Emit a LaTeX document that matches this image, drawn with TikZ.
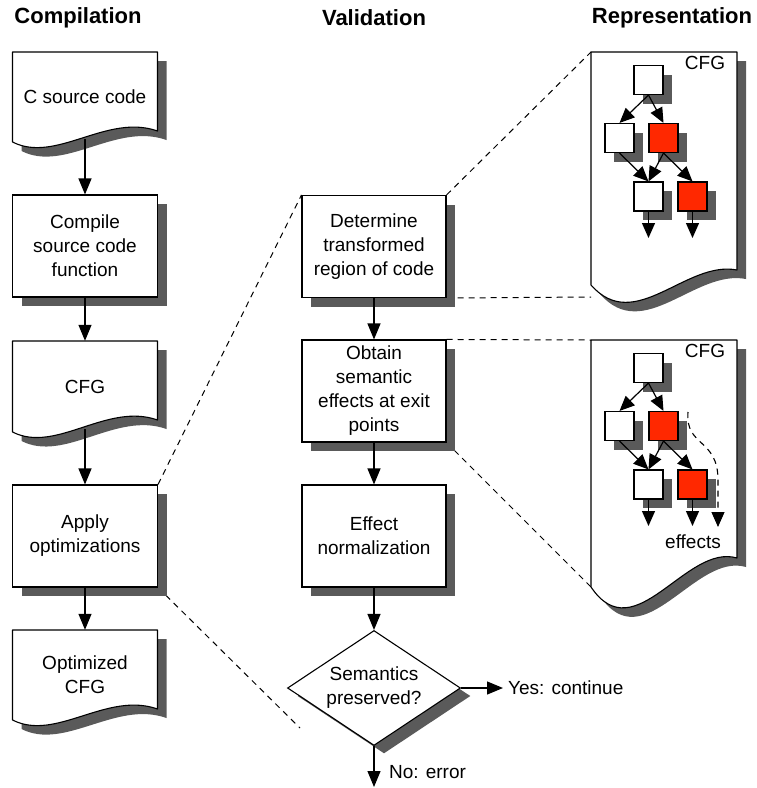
\documentclass[tikz,border=0pt]{standalone}
\usepackage{fontspec}
\setmainfont{Liberation Sans}
\usetikzlibrary{shapes.geometric,shadows,arrows.meta,backgrounds}
\definecolor{shadowgray}{RGB}{90,90,90}
\definecolor{cfgred}{RGB}{255,40,0}
% document shape: L T R B(left bottom) Br(right bottom) k1 k2
\newcommand\docshape[7]{%
  \begin{scope}[shift={(9,9)}]
    \fill[shadowgray] (#1,#2) -- (#3,#2) -- (#3,#5) .. controls ({#1+0.65*(#3-#1)},{#5-#7}) and ({#1+0.3*(#3-#1)},{#4+#6}) .. (#1,#4) -- cycle;
  \end{scope}
  \draw[line width=1.1pt,fill=white,line join=round] (#1,#2) -- (#3,#2) -- (#3,#5) .. controls ({#1+0.65*(#3-#1)},{#5-#7}) and ({#1+0.3*(#3-#1)},{#4+#6}) .. (#1,#4) -- cycle;
}
% mini CFG: y offset, name prefix
\newcommand\minicfg[2]{%
  \node[cfgw] (#2a) at (648.5,{80+#1}) {};
  \node[cfgw] (#2b) at (619.5,{138+#1}) {};
  \node[cfgr] (#2c) at (663.5,{138+#1}) {};
  \node[cfgw] (#2d) at (648.5,{196.5+#1}) {};
  \node[cfgr] (#2e) at (692.5,{196.5+#1}) {};
  \coordinate (#2dx) at (648.5,{238+#1});
  \coordinate (#2ex) at (692.5,{238+#1});
  \node[lbl] (#2lab) at (705,{63+#1}) {CFG};
  \draw[mini] (#2a.south) -- (#2b.north);
  \draw[mini] (#2a.south) -- (#2c.north);
  \draw[mini] (#2b.south) -- (#2d.north);
  \draw[mini] (#2c.south) -- (#2d.north);
  \draw[mini] (#2c.south) -- (#2e.north);
  \draw[mini] (#2d.south) -- (#2dx);
  \draw[mini] (#2e.south) -- (#2ex);
}
\begin{document}
\begin{tikzpicture}[x=1pt,y=-1pt,
  every node/.style={font=\fontsize{19}{24}\selectfont},
  shadowed/.style={drop shadow={shadow xshift=9pt,shadow yshift=-9pt,fill=shadowgray,opacity=1}},
  box/.style={draw,fill=white,line width=1.1pt,minimum width=145pt,minimum height=102pt,align=center,inner sep=0pt,shadowed},
  doctext/.style={minimum width=145pt,align=center,inner sep=0pt},
  title/.style={font=\fontsize{22}{24}\selectfont\bfseries},
  lbl/.style={inner sep=0pt},
  cfgw/.style={draw,fill=white,line width=1.1pt,minimum size=29pt,inner sep=0pt,shadowed},
  cfgr/.style={cfgw,fill=cfgred},
  main/.style={line width=1.2pt,-{Triangle[length=16pt,width=13pt]}},
  mini/.style={line width=1.2pt,-{Triangle[length=15pt,width=13pt]}},
  zoomline/.style={line width=1pt,dash pattern=on 6pt off 5pt}]
\useasboundingbox (0,0) rectangle (756,788);

% titles
\node[title] (t1) at (78,18) {Compilation};
\node[title] (t2) at (374,18) {Validation};
\node[title] (t3) at (672,18) {Representation};

% left column documents
\docshape{12.5}{52}{157.5}{142}{131}{22}{18}
\node[doctext,minimum height=90pt] (csrc) at (85,97) {C source code};
\coordinate (csrcb) at (85,139);
\docshape{12.5}{341}{157.5}{432}{420}{22}{18}
\node[doctext,minimum height=91pt] (cfg) at (85,386.5) {CFG};
\coordinate (cfgb) at (85,429);
\docshape{12.5}{630}{157.5}{720}{709}{22}{18}
\node[doctext,minimum height=90pt] (opt) at (85,675) {Optimized\\CFG};

% left column boxes
\node[box] (comp) at (85,246) {Compile\\source code\\function};
\node[box] (apply) at (85,536) {Apply\\optimizations};

% middle column
\node[box,minimum width=144pt] (det) at (374,246.5) {Determine\\transformed\\region of code};
\node[box,minimum width=144pt] (obt) at (374,391) {Obtain\\semantic\\effects at exit\\points};
\node[box,minimum width=144pt] (eff) at (374,536) {Effect\\normalization};
\node[diamond,draw,fill=white,line width=1.1pt,minimum width=173pt,minimum height=115pt,inner sep=0pt,
      drop shadow={shadow xshift=10pt,shadow yshift=-8pt,fill=shadowgray,opacity=1}] (dec) at (374,688) {};
\node[align=center,inner sep=0pt] (dect) at (374,688) {Semantics\\preserved?};
\coordinate (yesend) at (503,688);
\coordinate (noend) at (374,787);
\node[lbl,anchor=west] (yes) at (508,688) {Yes: continue};
\node[lbl,anchor=west] (no) at (389,772) {No: error};

% right column documents
\docshape{591}{52}{737}{285}{270}{50}{10}
\node[minimum width=146pt,minimum height=233pt,inner sep=0pt] (rep1) at (664,168.5) {};
\docshape{591}{340}{737}{587}{558}{65}{15}
\node[minimum width=146pt,minimum height=247pt,inner sep=0pt] (rep2) at (664,463.5) {};
\coordinate (rep1tl) at (591,52);
\coordinate (rep1bl) at (591,297);
\coordinate (rep2tl) at (591,340);
\coordinate (rep2bl) at (591,587);

\minicfg{0}{p}
\minicfg{288}{q}
\node[lbl] (effects) at (693,542) {effects};
\coordinate (efs) at (688,412);
\coordinate (efe) at (718,527);
\draw[line width=1.1pt,dash pattern=on 6pt off 5pt,-{Triangle[length=15pt,width=13pt]}]
  (efs) .. controls (685,447) and (718,438) .. (718,480) -- (efe);

% arrows
\draw[main] (csrcb) -- (comp.north);
\draw[main] (comp.south) -- (cfg.north);
\draw[main] (cfgb) -- (apply.north);
\draw[main] (apply.south) -- (opt.north);
\draw[main] (det.south) -- (obt.north);
\draw[main] (obt.south) -- (eff.north);
\draw[main] (eff.south) -- (dec.north);
\draw[main] (dec.east) -- (yesend);
\draw[main] (dec.south) -- (noend);

% zoom lines
\begin{scope}[on background layer]
  \coordinate (zl) at (300,728);
  \draw[zoomline] (apply.north east) -- (det.north west);
  \draw[zoomline] (apply.south east) -- (zl);
  \draw[zoomline] (det.north east) -- (rep1tl);
  \draw[zoomline] (det.south east) -- (rep1bl);
  \draw[zoomline] (obt.north east) -- (rep2tl);
  \draw[zoomline] (obt.south east) -- (rep2bl);
\end{scope}
\end{tikzpicture}
\end{document}
